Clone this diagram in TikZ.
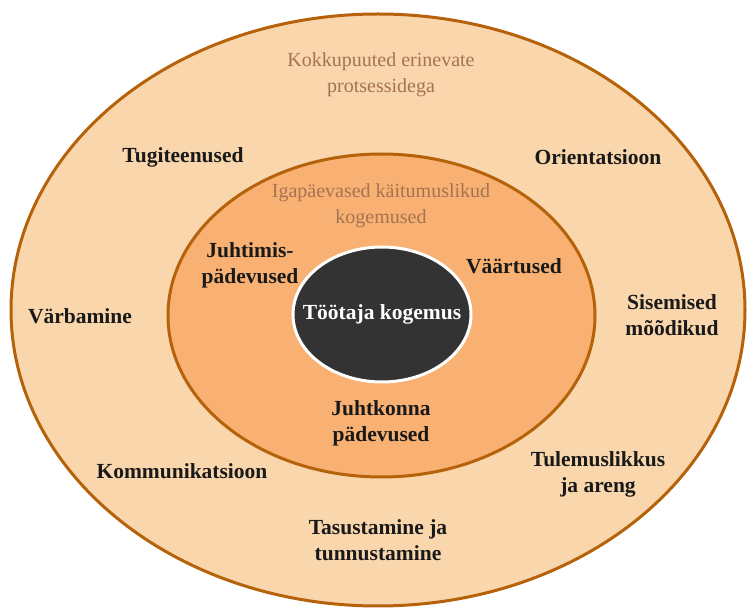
\documentclass[tikz,border=0pt]{standalone}
\usepackage{fontspec}
\setmainfont{Liberation Serif}
\usetikzlibrary{shapes.geometric}

\definecolor{ringline}{HTML}{B5620A}
\definecolor{outerfill}{HTML}{F9D6AC}
\definecolor{innerfill}{HTML}{F8B172}
\definecolor{corefill}{HTML}{333333}
\definecolor{softtext}{HTML}{A57352}

\begin{document}
\begin{tikzpicture}[x=1pt,y=-1pt,
        ring/.style={ellipse,draw=ringline,line width=3pt,inner sep=0pt},
        item/.style={align=center,font=\fontsize{21.5}{26}\selectfont\bfseries,
                     text=black!90},
        layer/.style={align=center,font=\fontsize{20}{26}\selectfont,
                      text=softtext}]
        \useasboundingbox (0,0) rectangle (748,609);

        \node[ring,fill=outerfill,minimum width=734pt,minimum height=592pt]
              (outer) at (378,310) {};
        \node[ring,fill=innerfill,minimum width=427pt,minimum height=323pt]
              (inner) at (381.5,315.5) {};
        \node[ellipse,draw=white,line width=3pt,fill=corefill,inner sep=0pt,
              minimum width=178pt,minimum height=135pt]
              (core) at (382,314.5) {};
        \node[item,text=white] (coretext) at (core.center) {Töötaja kogemus};

        \node[layer] (contacts) at (381,75) {Kokkupuuted erinevate\\protsessidega};
        \node[layer] (daily) at (381,205.5) {Igapäevased käitumuslikud\\kogemused};

        \node[item] (support) at (183,157) {Tugiteenused};
        \node[item] (orient) at (598,157) {Orientatsioon};
        \node[item] (recruit) at (80,316) {Värbamine};
        \node[item] (metrics) at (672,315.5) {Sisemised\\mõõdikud};
        \node[item] (comm) at (182,471) {Kommunikatsioon};
        \node[item] (perform) at (598,474) {Tulemuslikkus\\ja areng};
        \node[item] (reward) at (378,540) {Tasustamine ja\\tunnustamine};

        \node[item] (leading) at (250,265.5) {Juhtimis-\\pädevused};
        \node[item] (values) at (514,266) {Väärtused};
        \node[item] (mgmt) at (381,423) {Juhtkonna\\pädevused};
    \end{tikzpicture}
\end{document}
